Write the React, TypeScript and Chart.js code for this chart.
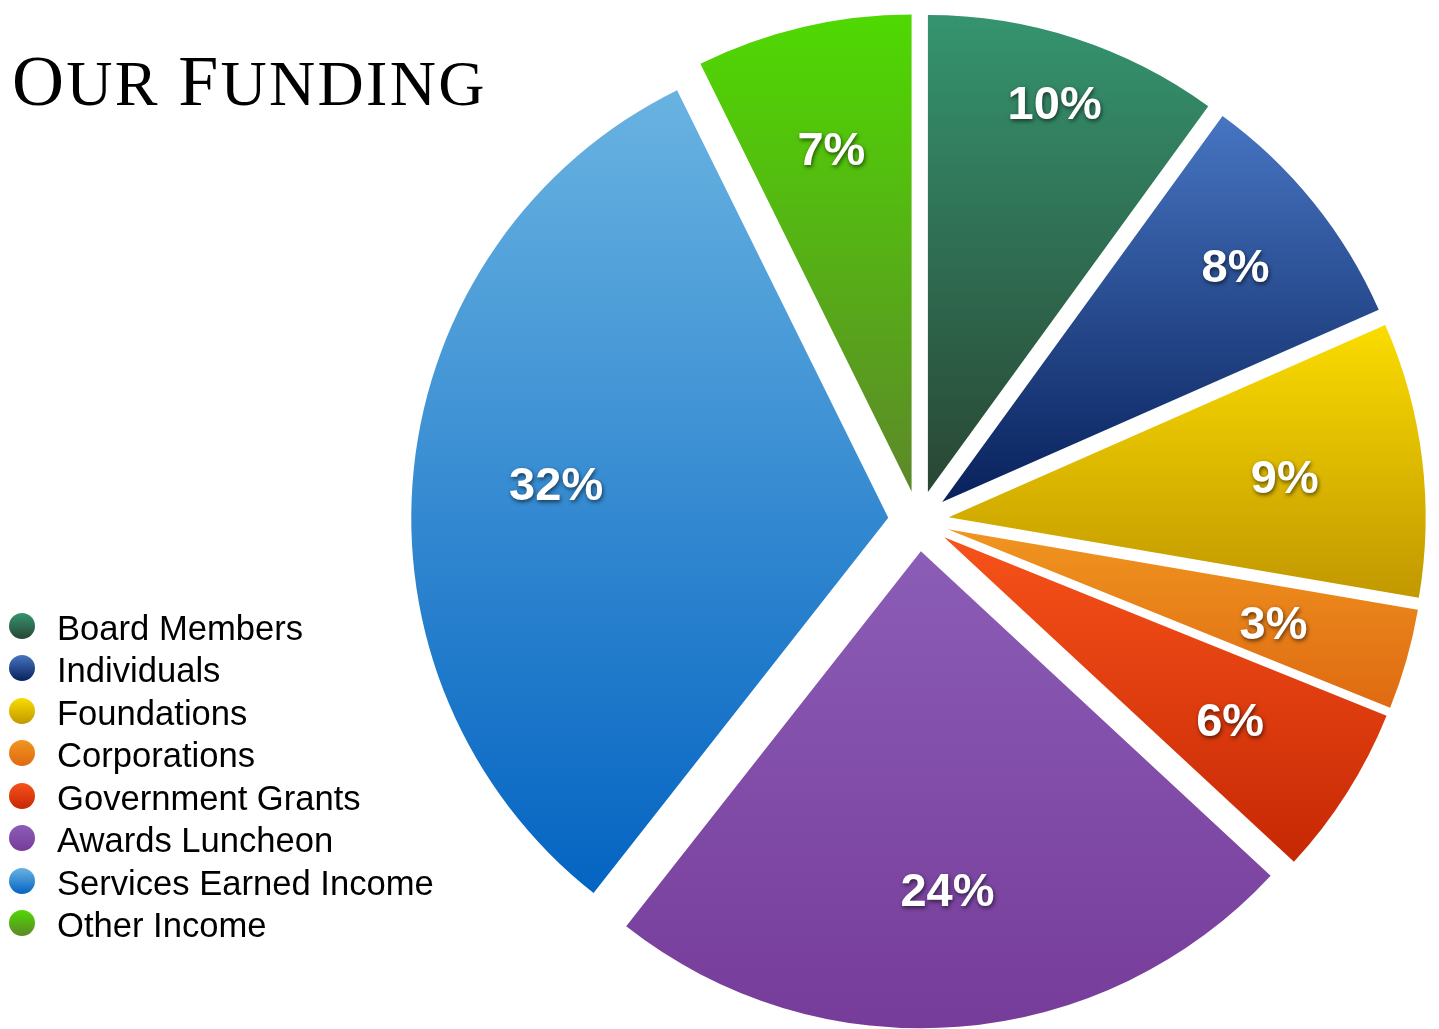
import React, { useEffect, useRef } from "react";
import { Chart, registerables } from "chart.js";

Chart.register(...registerables);

// ---------- data ----------
const categories = [
  "Board Members",
  "Individuals",
  "Foundations",
  "Corporations",
  "Government Grants",
  "Awards Luncheon",
  "Services Earned Income",
  "Other Income",
];
const shares = [10.0, 8.4, 9.3, 3.4, 5.8, 23.7, 32.1, 7.3];

// ---------- style ----------
const topColors = [
  "#35946f",
  "#4775c2",
  "#fadc00",
  "#f0951f",
  "#f7521a",
  "#8b5db6",
  "#69b3e1",
  "#4fd902",
];
const bottomColors = [
  "#294634",
  "#08215b",
  "#c29800",
  "#df6a12",
  "#c62804",
  "#763c99",
  "#0464c2",
  "#5d8829",
];
const labelRadius = [0.86, 0.79, 0.71, 0.71, 0.71, 0.71, 0.7, 0.74];
const EXPLODE = 30.4;
const RADIUS = 477;
const W = 1439;
const H = 1029;

function sliceYRange(cx: number, cy: number, r: number, a0: number, a1: number) {
  let top = Math.min(cy, cy + r * Math.sin(a0), cy + r * Math.sin(a1));
  let bottom = Math.max(cy, cy + r * Math.sin(a0), cy + r * Math.sin(a1));
  for (let k = -2; k <= 2; k++) {
    const up = -Math.PI / 2 + 2 * Math.PI * k;
    const down = Math.PI / 2 + 2 * Math.PI * k;
    if (up >= a0 && up <= a1) top = cy - r;
    if (down >= a0 && down <= a1) bottom = cy + r;
  }
  return [top, bottom];
}

const explodePlugin = {
  id: "explodeSlices",
  beforeDatasetDraw(chart: any, args: any) {
    const ctx: CanvasRenderingContext2D = chart.ctx;
    args.meta.data.forEach((el: any, i: number) => {
      const mid = (el.startAngle + el.endAngle) / 2;
      const tx = Math.cos(mid) * EXPLODE;
      const ty = Math.sin(mid) * EXPLODE;
      const [top, bottom] = sliceYRange(el.x + tx, el.y + ty, el.outerRadius, el.startAngle, el.endAngle);
      const g = ctx.createLinearGradient(0, top - ty, 0, bottom - ty);
      g.addColorStop(0, topColors[i]);
      g.addColorStop(1, bottomColors[i]);
      el.options.backgroundColor = g;
      ctx.save();
      ctx.translate(tx, ty);
      el.draw(ctx);
      ctx.restore();
    });
    return false;
  },
  afterDatasetsDraw(chart: any) {
    const ctx: CanvasRenderingContext2D = chart.ctx;
    const meta = chart.getDatasetMeta(0);
    const data = chart.data.datasets[0].data as number[];
    const total = data.reduce((a, b) => a + b, 0);
    ctx.save();
    ctx.font = 'bold 47px "Liberation Sans", Arial, Helvetica, sans-serif';
    ctx.textAlign = "center";
    ctx.textBaseline = "alphabetic";
    ctx.fillStyle = "#ffffff";
    ctx.shadowColor = "rgba(0,0,0,0.6)";
    ctx.shadowBlur = 4;
    ctx.shadowOffsetX = 1;
    ctx.shadowOffsetY = 2;
    meta.data.forEach((el: any, i: number) => {
      const mid = (el.startAngle + el.endAngle) / 2;
      const d = EXPLODE + el.outerRadius * labelRadius[i];
      const x = el.x + Math.cos(mid) * d;
      const y = el.y + Math.sin(mid) * d;
      const pct = Math.round((data[i] / total) * 100) + "%";
      ctx.fillText(pct, x, y + 17);
    });
    ctx.restore();
  },
};

export default function App() {
  const canvasRef = useRef<HTMLCanvasElement | null>(null);

  useEffect(() => {
    if (!canvasRef.current) return;
    const chart = new Chart(canvasRef.current, {
      type: "pie",
      data: {
        labels: categories,
        datasets: [
          {
            data: shares,
            backgroundColor: topColors,
            borderWidth: 0,
            hoverOffset: 0,
          },
        ],
      },
      options: {
        responsive: false,
        maintainAspectRatio: false,
        animation: false,
        events: [],
        radius: RADIUS,
        layout: { padding: { left: 398, top: 13, right: 0, bottom: 0 } },
        plugins: {
          legend: { display: false },
          tooltip: { enabled: false },
          title: { display: false },
        },
      } as any,
      plugins: [explodePlugin as any],
    });
    return () => chart.destroy();
  }, []);

  const legendBaseline0 = 639.5;
  const rowH = 42.5;

  return (
    <div style={{ position: "fixed", left: 0, top: 0, width: W, height: H, background: "#ffffff", overflow: "hidden" }}>
      <canvas ref={canvasRef} width={W} height={H} style={{ position: "absolute", left: 0, top: 0, width: W, height: H, display: "block" }} />
      <div
        style={{
          position: "absolute",
          left: 12,
          top: 45,
          fontFamily: '"Liberation Serif", "DejaVu Serif", serif',
          color: "#000",
          lineHeight: "72px",
          whiteSpace: "nowrap",
          letterSpacing: "2.3px",
        }}
      >
        <span style={{ fontSize: 72 }}>O</span>
        <span style={{ fontSize: 64 }}>UR</span>
        <span style={{ fontSize: 64 }}> </span>
        <span style={{ fontSize: 72 }}>F</span>
        <span style={{ fontSize: 64 }}>UNDING</span>
      </div>
      <div style={{ position: "absolute", left: 0, top: legendBaseline0 - 33, fontFamily: '"Liberation Sans", Arial, Helvetica, sans-serif', fontSize: 34.6, color: "#000" }}>
        {categories.map((c, i) => (
          <div key={c} style={{ position: "relative", height: rowH, lineHeight: rowH + "px", whiteSpace: "nowrap" }}>
            <span
              style={{
                position: "absolute",
                left: 9,
                top: 6,
                width: 26,
                height: 26,
                borderRadius: "50%",
                background: `linear-gradient(to bottom, ${topColors[i]}, ${bottomColors[i]})`,
              }}
            />
            <span style={{ position: "absolute", left: 57, top: 0 }}>{c}</span>
          </div>
        ))}
      </div>
    </div>
  );
}
